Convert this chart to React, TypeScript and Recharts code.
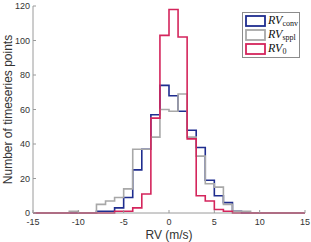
import React from "react";
import { LineChart, Line, XAxis, YAxis, Legend } from "recharts";

// histogram bin edges (1 m/s bins) and counts per bin [edge_i, edge_i+1)
const binEdges = [
  -15, -14, -13, -12, -11, -10, -9, -8, -7, -6, -5, -4, -3, -2, -1, 0, 1, 2, 3,
  4, 5, 6, 7, 8, 9, 10, 11, 12, 13, 14, 15,
];
const convCounts = [
  0, 0, 0, 0, 0, 0, 0, 1, 1, 3, 9, 25, 37, 57, 74, 68, 59, 48, 38, 19, 10, 6, 1,
  0, 0, 0, 0, 0, 0, 0,
];
const spplCounts = [
  0, 0, 0, 0, 1, 0, 0, 5, 7, 9, 14, 37, 37, 44, 60, 59, 69, 44, 33, 17, 15, 5, 1,
  1, 0, 0, 0, 0, 0, 0,
];
const zeroCounts = [
  0, 0, 0, 0, 0, 0, 0, 0, 0, 1, 1, 3, 11, 55, 103, 118, 102, 43, 10, 7, 2, 1, 0,
  0, 0, 0, 0, 0, 0, 0,
];
const xTicks = [-15, -10, -5, 0, 5, 10, 15];
const yTicks = [0, 20, 40, 60, 80, 100, 120];
const legendSubs = ["conv", "sppl", "0"];

const COLORS = ["#1f2d8f", "#a8a8a8", "#d4255c"];
const AXIS = "#9a9a9a";
const SANS = "'Liberation Sans', Arial, sans-serif";
const SERIF = "'Liberation Serif', 'DejaVu Serif', serif";

const data = binEdges.map((x, i) => {
  const k = Math.min(i, convCounts.length - 1);
  return { x, conv: convCounts[k], sppl: spplCounts[k], zero: zeroCounts[k] };
});

const XTitle = (props: any) => {
  const { viewBox } = props;
  if (!viewBox) return null;
  const cx = viewBox.x + viewBox.width / 2;
  return (
    <text x={cx} y={viewBox.y + viewBox.height - 3} textAnchor="middle" fontSize={12} fill="#333" fontFamily={SANS}>
      RV (m/s)
    </text>
  );
};

const YTitle = (props: any) => {
  const { viewBox } = props;
  if (!viewBox) return null;
  const cx = viewBox.x + 8;
  const cy = viewBox.y + viewBox.height / 2;
  return (
    <text
      x={cx}
      y={cy}
      transform={`rotate(-90 ${cx} ${cy})`}
      textAnchor="middle"
      dominantBaseline="central"
      fontSize={12}
      fill="#333"
      fontFamily={SANS}
    >
      Number of timeseries points
    </text>
  );
};

const LegendBox = () => (
  <div
    style={{
      border: "1px solid #8c8c8c",
      background: "#fff",
      padding: "1px 2px",
      boxSizing: "border-box",
    }}
  >
    {legendSubs.map((sub, i) => (
      <div key={sub} style={{ display: "flex", alignItems: "center", height: 14 }}>
        <svg width={21} height={12} style={{ marginRight: 2, flex: "none" }}>
          <rect x={1} y={1} width={19} height={10} fill="#fff" stroke={COLORS[i]} strokeWidth={1.8} />
        </svg>
        <span style={{ fontFamily: SERIF, fontStyle: "italic", fontSize: 12, color: "#111", lineHeight: "12px", whiteSpace: "nowrap" }}>
          RV
          <span style={{ fontStyle: "normal", fontSize: 8, position: "relative", top: 2 }}>{sub}</span>
        </span>
      </div>
    ))}
  </div>
);

export default function App() {
  return (
    <div style={{ position: "absolute", left: 0, top: 0, width: 311, height: 242, background: "#fff" }}>
      <LineChart width={311} height={242} data={data} margin={{ top: 6, right: 6, left: 0, bottom: 0 }}>
        <XAxis
          xAxisId="b"
          dataKey="x"
          type="number"
          domain={[-15, 15]}
          ticks={xTicks}
          allowDataOverflow
          height={29}
          stroke={AXIS}
          tickSize={-3}
          tickMargin={9}
          tick={{ fontSize: 9, fill: "#333", fontFamily: SANS }}
          label={<XTitle />}
        />
        <XAxis
          xAxisId="t"
          orientation="top"
          dataKey="x"
          type="number"
          domain={[-15, 15]}
          ticks={xTicks}
          height={0}
          stroke={AXIS}
          tickSize={-3}
          tick={false}
        />
        <YAxis
          yAxisId="l"
          type="number"
          domain={[0, 120]}
          ticks={yTicks}
          width={33}
          stroke={AXIS}
          tickSize={-3}
          tickMargin={6}
          tick={{ fontSize: 9, fill: "#333", fontFamily: SANS }}
          label={<YTitle />}
        />
        <YAxis
          yAxisId="r"
          orientation="right"
          type="number"
          domain={[0, 120]}
          ticks={yTicks}
          width={0}
          stroke={AXIS}
          tickSize={-3}
          tick={false}
        />
        <Legend
          layout="horizontal"
          verticalAlign="middle"
          align="center"
          wrapperStyle={{ left: 242, top: 12, width: 58 }}
          content={<LegendBox />}
        />
        <Line xAxisId="b" yAxisId="l" dataKey="conv" type="stepAfter" stroke={COLORS[0]} strokeWidth={1.6} dot={false} isAnimationActive={false} />
        <Line xAxisId="b" yAxisId="l" dataKey="sppl" type="stepAfter" stroke={COLORS[1]} strokeWidth={1.6} dot={false} isAnimationActive={false} />
        <Line xAxisId="b" yAxisId="l" dataKey="zero" type="stepAfter" stroke={COLORS[2]} strokeWidth={1.6} dot={false} isAnimationActive={false} />
      </LineChart>
    </div>
  );
}
